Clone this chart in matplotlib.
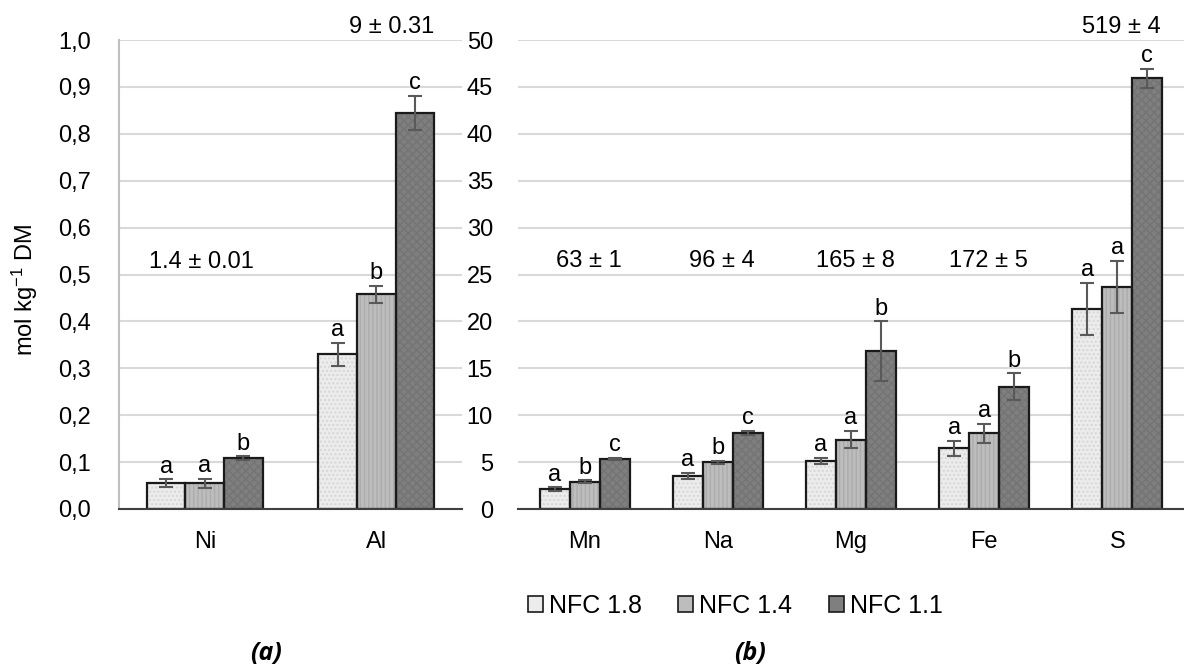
import numpy as np
import matplotlib
matplotlib.use("Agg")
import matplotlib.pyplot as plt

plt.rcParams["font.family"] = ["Liberation Sans", "DejaVu Sans"]
plt.rcParams["mathtext.fontset"] = "custom"
plt.rcParams["mathtext.rm"] = "Liberation Sans"
plt.rcParams["mathtext.it"] = "Liberation Sans:italic"

series = ["NFC 1.8", "NFC 1.4", "NFC 1.1"]
colors = ["#ececec", "#bdbdbd", "#7f7f7f"]
hatches = ["....", "||||", "xxxx"]
hatch_cols = ["#d6d6d6", "#acacac", "#747474"]

# panel (a)
cats_a = ["Ni", "Al"]
vals_a = [[0.055, 0.330], [0.055, 0.458], [0.108, 0.845]]
errs_a = [[0.008, 0.025], [0.010, 0.018], [0.004, 0.036]]
lets_a = [["a", "a"], ["a", "b"], ["b", "c"]]
note_a = ["1.4 ± 0.01", "9 ± 0.31"]
note_ay = [0.527, 1.028]
note_adx = [-0.02, 0.09]

# panel (b)
cats_b = ["Mn", "Na", "Mg", "Fe", "S"]
vals_b = [[2.1, 3.5, 5.1, 6.45, 21.3],
          [2.9, 5.0, 7.4, 8.05, 23.65],
          [5.3, 8.1, 16.8, 13.05, 45.9]]
errs_b = [[0.2, 0.35, 0.3, 0.78, 2.8],
          [0.15, 0.15, 0.9, 1.06, 2.75],
          [0.1, 0.25, 3.2, 1.4, 1.0]]
lets_b = [["a", "a", "a", "a", "a"],
          ["b", "b", "a", "a", "a"],
          ["c", "c", "b", "b", "c"]]
note_b = ["63 ± 1", "96 ± 4", "165 ± 8", "172 ± 5", "519 ± 4"]
note_by = [26.4, 26.4, 26.4, 26.4, 51.4]

W, H = 1184, 666
fig = plt.figure(figsize=(W / 100, H / 100), dpi=100)
ax1 = fig.add_axes([119 / W, 1 - 509 / H, (462 - 119) / W, (509 - 40) / H])
ax2 = fig.add_axes([518 / W, 1 - 509 / H, (1184 - 518) / W, (509 - 40) / H])

bw = 0.225
fs = 17


def draw(ax, cats, vals, errs, lets, top, lpad):
    x = np.arange(len(cats))
    for i in range(3):
        xs = x + (i - 1) * bw
        ax.bar(xs, vals[i], bw, color=colors[i], edgecolor="none", zorder=2,
               label=series[i])
        ax.bar(xs, vals[i], bw, color="none", edgecolor=hatch_cols[i],
               hatch=hatches[i], linewidth=0, zorder=2.5)
        ax.bar(xs, vals[i], bw, color="none", edgecolor="#1a1a1a",
               linewidth=1.6, zorder=3)
        ax.errorbar(xs, vals[i], yerr=errs[i], fmt="none", ecolor="#595959",
                    elinewidth=1.5, capsize=5, capthick=1.5, zorder=4)
        for xx, v, e, t in zip(xs, vals[i], errs[i], lets[i]):
            ax.text(xx, v + e + lpad, t, ha="center", va="bottom", fontsize=fs)
    ax.set_xlim(-0.5, len(cats) - 0.5)
    ax.set_ylim(0, top)
    ax.set_xticks(x)
    ax.set_xticklabels(cats, fontsize=fs)
    ax.yaxis.grid(True, color="#d9d9d9", linewidth=1.5, zorder=0)
    ax.set_axisbelow(True)
    ax.tick_params(length=0, labelsize=fs)
    ax.tick_params(axis="x", pad=16)
    for s in ["top", "right"]:
        ax.spines[s].set_visible(False)
    ax.spines["bottom"].set_color("#404040")
    ax.spines["bottom"].set_linewidth(1.5)
    ax.spines["bottom"].set_zorder(5)


draw(ax1, cats_a, vals_a, errs_a, lets_a, 1.0, 0.004)
ax1.set_yticks(np.arange(0, 1.01, 0.1))
ax1.set_yticklabels([f"{v:.1f}".replace(".", ",") for v in np.arange(0, 1.01, 0.1)])
ax1.spines["left"].set_color("#bfbfbf")
ax1.spines["left"].set_linewidth(1.5)
ax1.tick_params(axis="y", pad=20)
ax1.set_ylabel("mol kg$^{\\mathregular{-1}}$ DM", fontsize=fs)
ax1.yaxis.set_label_coords(25 / W, 1 - 290 / H, transform=fig.transFigure)
ax1.yaxis.label.set_va("center")
for i, t in enumerate(note_a):
    ax1.text(i + note_adx[i], note_ay[i], t, ha="center", va="center",
             fontsize=fs, clip_on=False)

draw(ax2, cats_b, vals_b, errs_b, lets_b, 50, 0.2)
ax2.set_yticks(np.arange(0, 51, 5))
ax2.spines["left"].set_visible(False)
ax2.tick_params(axis="y", pad=18)
for i, (t, y) in enumerate(zip(note_b, note_by)):
    ax2.text(i + 0.03, y, t, ha="center", va="center", fontsize=fs, clip_on=False)

handles = [plt.Rectangle((0, 0), 1, 1, facecolor=c, edgecolor="#1a1a1a", lw=1.2)
           for c in colors]
fig.legend(handles, series, loc="center left", bbox_to_anchor=(505 / W, 1 - 606 / H),
           ncol=3, frameon=False, fontsize=18, handlelength=0.6, handleheight=0.6,
           handletextpad=0.25, columnspacing=1.45)

fig.text(266 / W, 1 - 653 / H, "(a)", ha="center", va="center", fontsize=18,
         fontweight="bold", fontstyle="italic", family=["Open Sans", "DejaVu Sans"])
fig.text(750 / W, 1 - 653 / H, "(b)", ha="center", va="center", fontsize=18,
         fontweight="bold", fontstyle="italic", family=["Open Sans", "DejaVu Sans"])

fig.savefig("out.png", dpi=100)
